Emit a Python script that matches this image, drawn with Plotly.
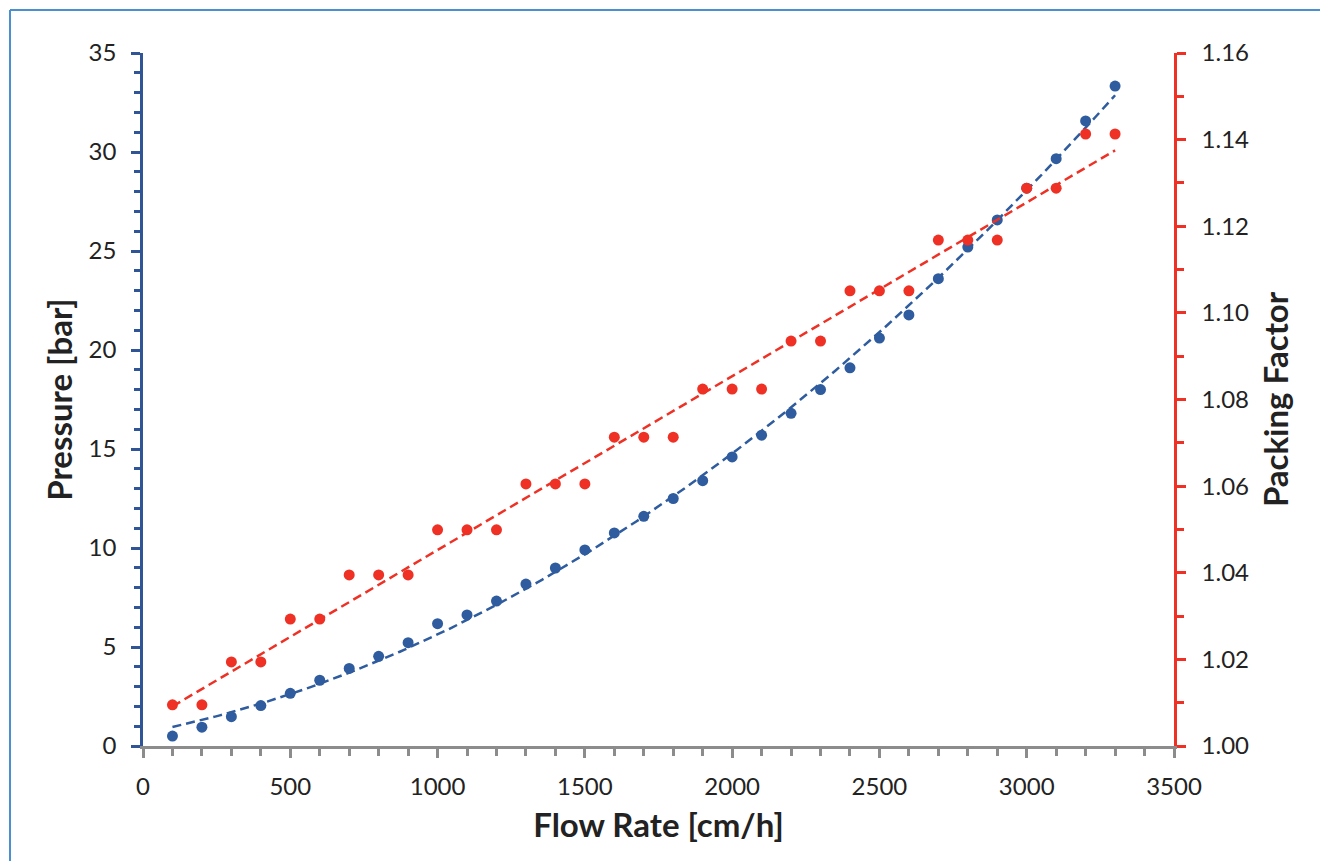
import numpy as np
import plotly.graph_objects as go

flow_rate = [100, 200, 300, 400, 500, 600, 700, 800, 900, 1000, 1100, 1200, 1300, 1400, 1500,
             1600, 1700, 1800, 1900, 2000, 2100, 2200, 2300, 2400, 2500, 2600, 2700, 2800,
             2900, 3000, 3100, 3200, 3300]
pressure = [0.50, 0.95, 1.48, 2.04, 2.66, 3.32, 3.92, 4.53, 5.22, 6.18, 6.62, 7.32, 8.18, 8.99,
            9.90, 10.76, 11.60, 12.50, 13.40, 14.60, 15.70, 16.80, 18.00, 19.10, 20.60, 21.77,
            23.60, 25.20, 26.57, 28.17, 29.66, 31.57, 33.33]
packing_factor = [1.0095, 1.0095, 1.0194, 1.0194, 1.0293, 1.0293, 1.0395, 1.0395, 1.0395,
                  1.0499, 1.0499, 1.0499, 1.0605, 1.0605, 1.0605, 1.0713, 1.0713, 1.0713,
                  1.0824, 1.0824, 1.0824, 1.0935, 1.0935, 1.1051, 1.1051, 1.1051, 1.1168,
                  1.1168, 1.1168, 1.1288, 1.1288, 1.1413, 1.1413]

BLUE = "#2E5C9E"
AXBLUE = "#2F5597"
RED = "#EE3124"
GREY = "#8C8C8C"
FONT = "Lato"
TXT = "#222222"
BORDER = "#4A90D0"

x = np.array(flow_rate, dtype=float)
xs = np.linspace(x.min(), x.max(), 200)
p_fit = np.polyval(np.polyfit(x, pressure, 2), xs)
k_fit = np.polyval(np.polyfit(x, packing_factor, 1), xs)

fig = go.Figure()
fig.add_trace(go.Scatter(x=xs, y=p_fit, mode="lines", yaxis="y",
                         line=dict(color=BLUE, width=2.5, dash="9px,5px"),
                         hoverinfo="skip", showlegend=False))
fig.add_trace(go.Scatter(x=xs, y=k_fit, mode="lines", yaxis="y2",
                         line=dict(color=RED, width=2.5, dash="9px,5px"),
                         hoverinfo="skip", showlegend=False))
fig.add_trace(go.Scatter(x=flow_rate, y=pressure, mode="markers", yaxis="y",
                         marker=dict(color=BLUE, size=11), showlegend=False,
                         name="Pressure"))
fig.add_trace(go.Scatter(x=flow_rate, y=packing_factor, mode="markers", yaxis="y2",
                         marker=dict(color=RED, size=11), showlegend=False,
                         name="Packing Factor"))

L, R, T, B = 143, 146, 53, 115
W, H = 1320, 861
pw, ph = W - L - R, H - T - B

def px(xp):
    return (xp - L) / pw

def py(yp):
    return (H - B - yp) / ph

fig.update_layout(
    width=W, height=H,
    margin=dict(l=L, r=R, t=T, b=B, autoexpand=False),
    paper_bgcolor="white", plot_bgcolor="white",
    font=dict(family=FONT, size=24, color=TXT),
    xaxis=dict(
        range=[0, 3500], tickmode="linear", tick0=0, dtick=500,
        showgrid=False, zeroline=False,
        showline=True, linecolor=GREY, linewidth=2.5,
        ticks="outside", ticklen=9, tickwidth=2.5, tickcolor=GREY,
        minor=dict(dtick=100, ticks="outside", ticklen=7, tickwidth=2.5, tickcolor=GREY),
        ticklabelstandoff=8,
        title=dict(text="<b>Flow Rate [cm/h]</b>", font=dict(size=33, family=FONT, color=TXT),
                   standoff=16),
    ),
    yaxis=dict(
        range=[0, 35], tickmode="linear", tick0=0, dtick=5,
        showgrid=False, zeroline=False,
        showline=True, linecolor=AXBLUE, linewidth=2.5,
        ticks="outside", ticklen=9, tickwidth=2.5, tickcolor=AXBLUE,
        minor=dict(dtick=1, ticks="outside", ticklen=6, tickwidth=2.5, tickcolor=AXBLUE),
        ticklabelstandoff=10,
        title=dict(text="<b>Pressure [bar]</b>", font=dict(size=33, family=FONT, color=TXT),
                   standoff=7),
    ),
    yaxis2=dict(
        range=[1.00, 1.16], tickmode="linear", tick0=1.0, dtick=0.02, tickformat=".2f",
        overlaying="y", side="right",
        showgrid=False, zeroline=False,
        showline=True, linecolor=RED, linewidth=2.5,
        ticks="outside", ticklen=9, tickwidth=2.5, tickcolor=RED,
        minor=dict(dtick=0.01, ticks="outside", ticklen=7, tickwidth=2.5, tickcolor=RED),
        ticklabelstandoff=11,
        title=dict(text="<b>Packing Factor</b>", font=dict(size=33, family=FONT, color=TXT),
                   standoff=17),
    ),
    shapes=[
        dict(type="line", xref="paper", yref="paper",
             x0=px(10), x1=px(1400), y0=py(10), y1=py(10),
             line=dict(color=BORDER, width=2), layer="below"),
        dict(type="line", xref="paper", yref="paper",
             x0=px(10), x1=px(10), y0=py(10), y1=py(950),
             line=dict(color=BORDER, width=2), layer="below"),
    ],
)

fig.write_html("out.html",
               config={"displayModeBar": False},
               post_script="document.body.style.margin='0';"
                           "document.body.style.overflow='hidden';"
                           "document.documentElement.style.overflow='hidden';")
